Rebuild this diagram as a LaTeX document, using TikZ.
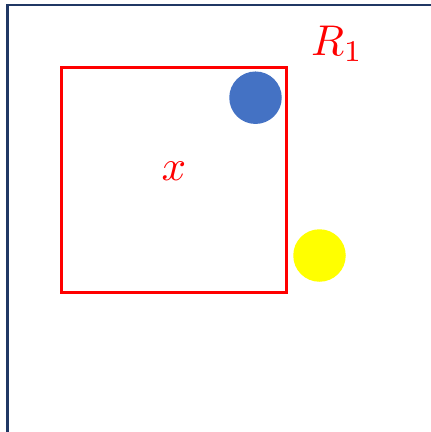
\documentclass[tikz,border=0pt]{standalone}
\usepackage{graphicx}
\definecolor{navy}{RGB}{32,56,100}
\definecolor{redsq}{RGB}{255,0,0}
\definecolor{bluedot}{RGB}{68,114,196}
\definecolor{yellowdot}{RGB}{255,255,0}
\tikzset{
  frameline/.style={draw=navy, line width=2.6pt},
  region/.style={draw=redsq, line width=2.5pt, minimum size=225pt, inner sep=0pt},
  dot/.style={circle, minimum size=52.5pt, inner sep=0pt},
  lbl/.style={text=redsq, inner sep=0pt}
}
\begin{document}
\begin{tikzpicture}[x=1pt,y=-1pt]
\useasboundingbox (0,0) rectangle (431,432);
\coordinate (fbl) at (7.3,433);
\coordinate (ftl) at (7.3,5);
\coordinate (ftr) at (432,5);
\draw[frameline] (fbl) -- (ftl) -- (ftr);
\node[region] (sq) at (174,180) {};
\node[dot, fill=bluedot] (blue) at (255.5,97.7) {};
\node[dot, fill=yellowdot] (yellow) at (319.5,255.5) {};
\node[lbl, anchor=base west] (r1) at (311,55) {\scalebox{4.3}{$R_1$}};
\node[lbl, anchor=base] (xl) at (174,180) {\scalebox{4.3}{$x$}};
\end{tikzpicture}
\end{document}
